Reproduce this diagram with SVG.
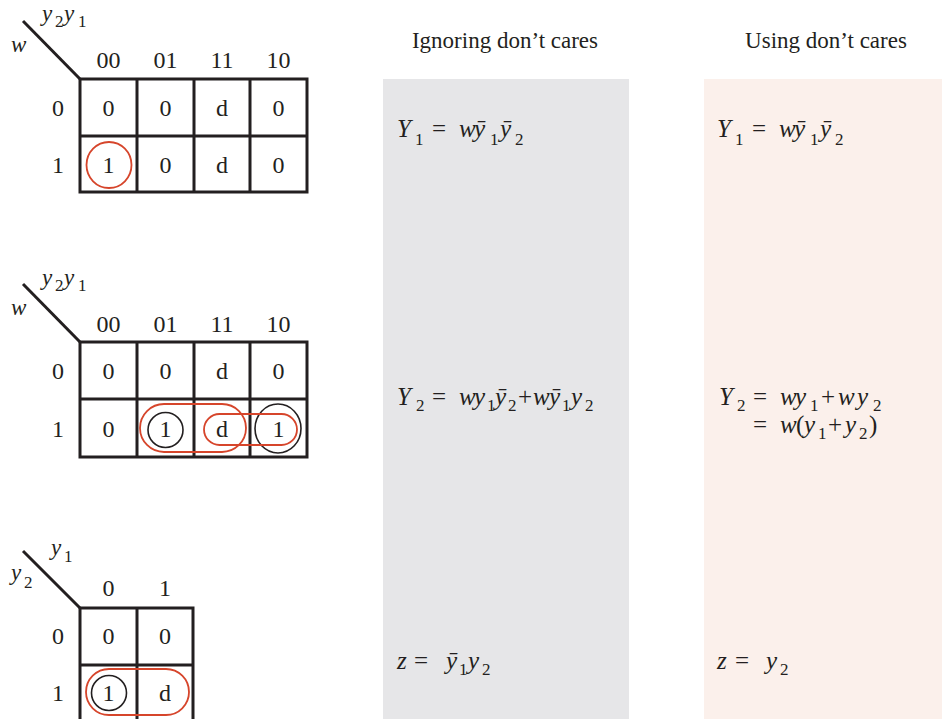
<svg xmlns="http://www.w3.org/2000/svg" width="942" height="719" viewBox="0 0 942 719">
<style>
text{font-family:"Liberation Serif","DejaVu Serif",serif;fill:#231f20}
.k{font-size:24px;text-anchor:middle}
.h{font-size:23px;text-anchor:middle}
.eq{font-size:25px}
.lab{font-size:23px}
.i{font-style:italic}
.s{font-size:17px;font-style:normal}
.grid{fill:none;stroke:#231f20;stroke-width:3}
.red{fill:none;stroke:#d6452b;stroke-width:1.8}
.blk{fill:none;stroke:#231f20;stroke-width:1.6}
</style>
<rect width="942" height="719" fill="#ffffff"/>
<g id="panel-ignoring">
<rect x="383" y="79" width="246" height="640" fill="#e6e6e8"/>
<text class="h" x="505" y="48">Ignoring don’t cares</text>
</g>
<g id="panel-using">
<rect x="704" y="79" width="238" height="640" fill="#fbf0eb"/>
<text class="h" x="826" y="48">Using don’t cares</text>
</g>

<g id="kmap-Y1">
<path class="grid" d="M23 21L80 79"/>
<rect class="grid" x="80" y="79" width="227" height="113"/>
<path class="grid" d="M137 79V192M194 79V192M250 79V192M80 136H307"/>
<text class="lab"><tspan class="i" x="42" y="21">y</tspan><tspan class="s" x="55" y="27">2</tspan><tspan class="i" x="64" y="21">y</tspan><tspan class="s" x="78" y="27">1</tspan></text>
<text class="lab i" x="11" y="52">w</text>
<text class="k" y="68"><tspan x="108.5">00</tspan><tspan x="165.5">01</tspan><tspan x="222">11</tspan><tspan x="278.5">10</tspan></text>
<text class="k" x="58" y="116">0</text>
<text class="k" x="58" y="173">1</text>
<text class="k" y="116"><tspan x="108.5">0</tspan><tspan x="165.5">0</tspan><tspan x="222">d</tspan><tspan x="278.5">0</tspan></text>
<text class="k" y="173"><tspan x="108.5">1</tspan><tspan x="165.5">0</tspan><tspan x="222">d</tspan><tspan x="278.5">0</tspan></text>
<ellipse class="red" cx="109" cy="165" rx="22.5" ry="23"/>
</g>

<g id="kmap-Y2" transform="translate(0,263)">
<path class="grid" d="M23 21L80 79"/>
<rect class="grid" x="80" y="79" width="227" height="115"/>
<path class="grid" d="M137 79V194M194 79V194M250 79V194M80 136H307"/>
<text class="lab"><tspan class="i" x="42" y="22">y</tspan><tspan class="s" x="55" y="28">2</tspan><tspan class="i" x="64" y="22">y</tspan><tspan class="s" x="78" y="28">1</tspan></text>
<text class="lab i" x="11" y="52">w</text>
<text class="k" y="69"><tspan x="108.5">00</tspan><tspan x="165.5">01</tspan><tspan x="222">11</tspan><tspan x="278.5">10</tspan></text>
<text class="k" x="58" y="116">0</text>
<text class="k" x="58" y="174">1</text>
<text class="k" y="116"><tspan x="108.5">0</tspan><tspan x="165.5">0</tspan><tspan x="222">d</tspan><tspan x="278.5">0</tspan></text>
<text class="k" y="174"><tspan x="108.5">0</tspan><tspan x="165.5">1</tspan><tspan x="222">d</tspan><tspan x="278.5">1</tspan></text>
<circle class="blk" cx="165.5" cy="167" r="17.5"/>
<ellipse class="blk" cx="278" cy="165.5" rx="23" ry="24.5"/>
<rect class="red" x="140" y="141" width="106" height="48" rx="24"/>
<rect class="red" x="204" y="151" width="93" height="31" rx="15.5"/>
</g>

<g id="kmap-z">
<path class="grid" d="M23 551L80 608"/>
<path class="grid" d="M80 719V608H193V719M137 608V719M80 665H193"/>
<text class="lab"><tspan class="i" x="51" y="555">y</tspan><tspan class="s" x="64" y="562">1</tspan></text>
<text class="lab"><tspan class="i" x="11" y="580">y</tspan><tspan class="s" x="24" y="588">2</tspan></text>
<text class="k" y="596"><tspan x="108.5">0</tspan><tspan x="165">1</tspan></text>
<text class="k" x="58" y="644">0</text>
<text class="k" x="58" y="701">1</text>
<text class="k" y="644"><tspan x="108.5">0</tspan><tspan x="165">0</tspan></text>
<text class="k" y="701"><tspan x="108.5">1</tspan><tspan x="165">d</tspan></text>
<circle class="blk" cx="109" cy="693" r="17.5"/>
<rect class="red" x="86" y="669" width="103" height="46" rx="23"/>
</g>

<g id="eq-Y1-ignoring">
<text class="eq"><tspan class="i" x="397" y="137">Y</tspan><tspan class="s" x="415" y="145">1</tspan><tspan x="432" y="137">=</tspan><tspan class="i" x="459" y="137">w</tspan><tspan class="i" x="474" y="137">ȳ</tspan><tspan class="s" x="490" y="145">1</tspan><tspan class="i" x="500" y="137">ȳ</tspan><tspan class="s" x="515" y="145">2</tspan></text>
</g>
<g id="eq-Y1-using">
<text class="eq"><tspan class="i" x="717" y="137">Y</tspan><tspan class="s" x="735" y="145">1</tspan><tspan x="752" y="137">=</tspan><tspan class="i" x="779" y="137">w</tspan><tspan class="i" x="794" y="137">ȳ</tspan><tspan class="s" x="810" y="145">1</tspan><tspan class="i" x="820" y="137">ȳ</tspan><tspan class="s" x="835" y="145">2</tspan></text>
</g>
<g id="eq-Y2-ignoring">
<text class="eq"><tspan class="i" x="397" y="405">Y</tspan><tspan class="s" x="416" y="411">2</tspan><tspan x="432" y="405">=</tspan><tspan class="i" x="459" y="405">w</tspan><tspan class="i" x="474" y="405">y</tspan><tspan class="s" x="487" y="411">1</tspan><tspan class="i" x="495" y="405">ȳ</tspan><tspan class="s" x="508" y="411">2</tspan><tspan x="518" y="405">+</tspan><tspan class="i" x="533" y="405">w</tspan><tspan class="i" x="549" y="405">ȳ</tspan><tspan class="s" x="562" y="411">1</tspan><tspan class="i" x="571" y="405">y</tspan><tspan class="s" x="585" y="411">2</tspan></text>
</g>
<g id="eq-Y2-using">
<text class="eq"><tspan class="i" x="719" y="405">Y</tspan><tspan class="s" x="737" y="411">2</tspan><tspan x="753" y="405">=</tspan><tspan class="i" x="780" y="405">w</tspan><tspan class="i" x="795" y="405">y</tspan><tspan class="s" x="810" y="411">1</tspan><tspan x="821" y="405">+</tspan><tspan class="i" x="838" y="405">w</tspan><tspan class="i" x="857" y="405">y</tspan><tspan class="s" x="873" y="411">2</tspan></text>
<text class="eq"><tspan x="753" y="433">=</tspan><tspan class="i" x="780" y="433">w</tspan><tspan x="796" y="433">(</tspan><tspan class="i" x="804" y="433">y</tspan><tspan class="s" x="818" y="439">1</tspan><tspan x="828" y="433">+</tspan><tspan class="i" x="845" y="433">y</tspan><tspan class="s" x="859" y="439">2</tspan><tspan x="869" y="433">)</tspan></text>
</g>
<g id="eq-z-ignoring">
<text class="eq"><tspan class="i" x="397" y="669">z</tspan><tspan x="414" y="669">=</tspan><tspan class="i" x="446" y="669">ȳ</tspan><tspan class="s" x="459" y="675">1</tspan><tspan class="i" x="468" y="669">y</tspan><tspan class="s" x="482" y="675">2</tspan></text>
</g>
<g id="eq-z-using">
<text class="eq"><tspan class="i" x="717" y="669">z</tspan><tspan x="735" y="669">=</tspan><tspan class="i" x="766" y="669">y</tspan><tspan class="s" x="780" y="675">2</tspan></text>
</g>
</svg>
